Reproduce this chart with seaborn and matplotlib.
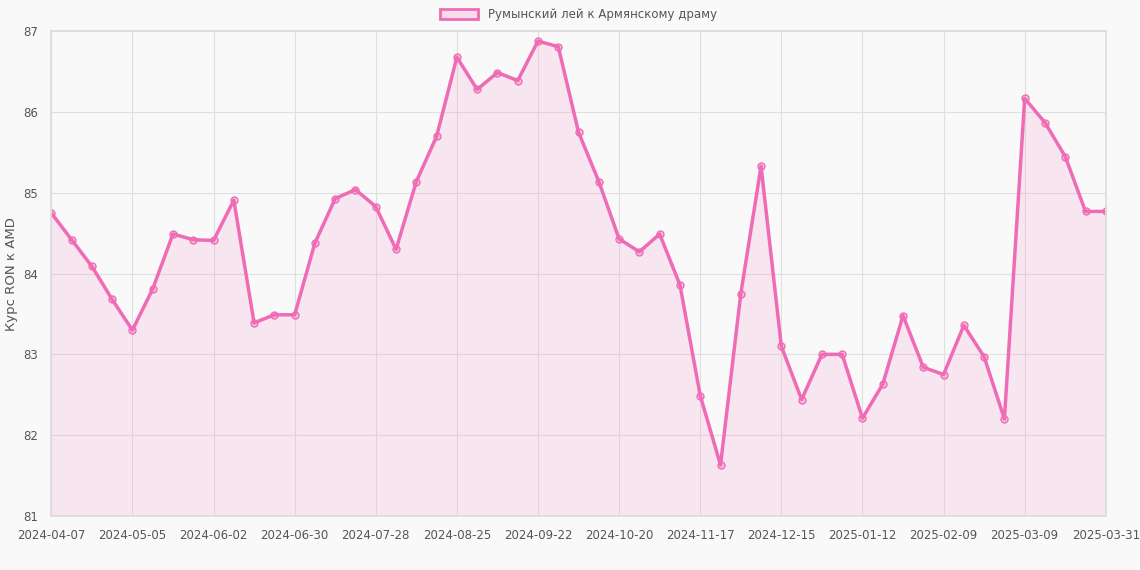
import matplotlib
matplotlib.use("Agg")
import matplotlib.pyplot as plt
import seaborn as sns
import pandas as pd
import numpy as np

dates = list(pd.date_range("2024-04-07", periods=52, freq="7D").strftime("%Y-%m-%d")) + ["2025-03-31"]
values = [84.75, 84.42, 84.09, 83.68, 83.30, 83.81, 84.49, 84.42, 84.41, 84.91,
          83.39, 83.49, 83.49, 84.38, 84.93, 85.04, 84.83, 84.30, 85.14, 85.70,
          86.68, 86.28, 86.49, 86.39, 86.88, 86.81, 85.75, 85.14, 84.43, 84.27,
          84.49, 83.86, 82.49, 81.63, 83.75, 85.33, 83.10, 82.44, 83.00, 83.00,
          82.21, 82.63, 83.48, 82.84, 82.75, 83.36, 82.97, 82.20, 86.17, 85.87,
          85.45, 84.77, 84.77]
series_name = "Румынский лей к Армянскому драму"
ylabel = "Курс RON к AMD"

df = pd.DataFrame({"date": dates, "value": values, "i": np.arange(len(dates))})

sns.set_theme(style="whitegrid")
plt.rcParams['font.family'] = ['DejaVu Sans']
color = "#f06bb5"
fig, ax = plt.subplots(figsize=(11.4, 5.7), dpi=100)
fig.patch.set_facecolor("#f9f9f9")
ax.set_facecolor("#f9f9f9")
ax.fill_between(df["i"], df["value"], 81, color=color, alpha=0.13, linewidth=0)
sns.lineplot(data=df, x="i", y="value", ax=ax, color=color, linewidth=2.5,
             marker="o", markersize=5, markerfacecolor=(0.94, 0.42, 0.71, 0.3),
             markeredgecolor=color, markeredgewidth=1, label=series_name)
ax.set_xlim(0, len(dates) - 1)
ax.set_ylim(81, 87)
ticks = list(range(0, len(dates) - 1, 4)) + [len(dates) - 1]
ax.set_xticks(ticks)
ax.set_xticklabels([dates[t] for t in ticks], fontsize=8.5, color="#555")
ax.set_yticks(range(81, 88))
ax.tick_params(axis="y", labelsize=8.5, colors="#555")
ax.set_xlabel("")
ax.set_ylabel(ylabel, fontsize=9.5, color="#555")
ax.grid(True, color="#e0e0e0", linewidth=0.8)
for s in ax.spines.values():
    s.set_color("#ddd")
leg = ax.legend(loc="lower center", bbox_to_anchor=(0.5, 1.0), frameon=False, fontsize=8.5,
                handlelength=3.2, handleheight=1.0)
from matplotlib.patches import Rectangle
from matplotlib.legend_handler import HandlerPatch
ax.legend([Rectangle((0, 0), 1, 1, facecolor=(0.94, 0.42, 0.71, 0.2), edgecolor=color, linewidth=2)],
          [series_name], loc="lower center", bbox_to_anchor=(0.5, 1.0), frameon=False,
          fontsize=8.5, handlelength=3.2, handleheight=0.9, labelcolor="#555")
plt.subplots_adjust(left=0.045, right=0.97, top=0.945, bottom=0.095)
fig.savefig("out.png", dpi=100, facecolor=fig.get_facecolor())
